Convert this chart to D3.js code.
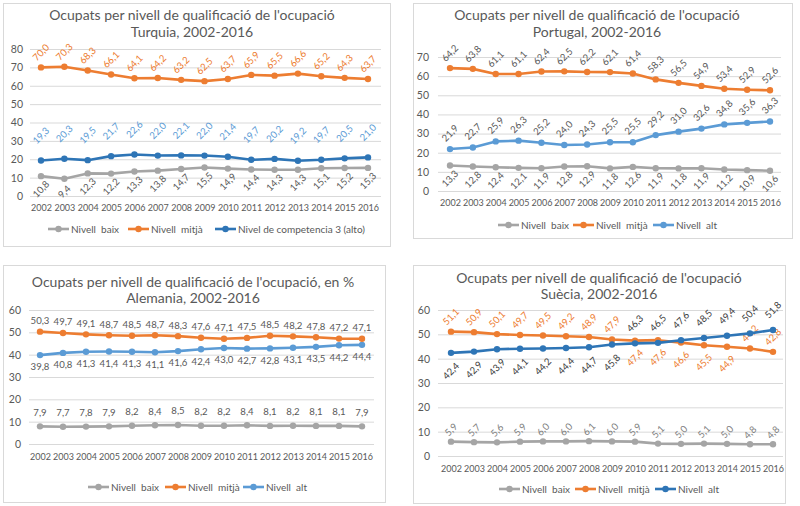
<!DOCTYPE html>
<html>
<head>
<meta charset="utf-8">
<script src="https://cdn.jsdelivr.net/npm/d3@7"></script>
<style>
  body { margin: 0; background: #fff; }
  text { font-family: Lato, "Liberation Sans", sans-serif; }
</style>
</head>
<body>
<script>
// categories
var years = ["2002","2003","2004","2005","2006","2007","2008","2009","2010","2011","2012","2013","2014","2015","2016"];

// Turquia
var turquiaBaix  = [10.8, 9.4, 12.3, 12.2, 13.3, 13.8, 14.7, 15.5, 14.9, 14.4, 14.3, 14.3, 15.1, 15.2, 15.3];
var turquiaMitja = [70.0, 70.3, 68.3, 66.1, 64.1, 64.2, 63.2, 62.5, 63.7, 65.9, 65.5, 66.6, 65.2, 64.3, 63.7];
var turquiaAlt   = [19.3, 20.3, 19.5, 21.7, 22.6, 22.0, 22.1, 22.0, 21.4, 19.7, 20.2, 19.2, 19.7, 20.5, 21.0];

// Portugal
var portugalBaix  = [13.3, 12.8, 12.4, 12.1, 11.9, 12.8, 12.9, 11.8, 12.6, 11.9, 11.8, 11.9, 11.2, 10.9, 10.6];
var portugalMitja = [64.2, 63.8, 61.1, 61.1, 62.4, 62.5, 62.2, 62.1, 61.4, 58.3, 56.5, 54.9, 53.4, 52.9, 52.6];
var portugalAlt   = [21.9, 22.7, 25.9, 26.3, 25.2, 24.0, 24.3, 25.5, 25.5, 29.2, 31.0, 32.6, 34.8, 35.6, 36.3];

// Alemania
var alemaniaBaix  = [7.9, 7.7, 7.8, 7.9, 8.2, 8.4, 8.5, 8.2, 8.2, 8.4, 8.1, 8.2, 8.1, 8.1, 7.9];
var alemaniaMitja = [50.3, 49.7, 49.1, 48.7, 48.5, 48.7, 48.3, 47.6, 47.1, 47.5, 48.5, 48.2, 47.8, 47.2, 47.1];
var alemaniaAlt   = [39.8, 40.8, 41.3, 41.4, 41.3, 41.1, 41.6, 42.4, 43.0, 42.7, 42.8, 43.1, 43.5, 44.2, 44.4];

// Suècia
var sueciaBaix  = [5.9, 5.7, 5.6, 5.9, 6.0, 6.0, 6.1, 6.0, 5.9, 5.1, 5.0, 5.1, 5.0, 4.8, 4.8];
var sueciaMitja = [51.1, 50.9, 50.1, 49.7, 49.5, 49.2, 48.9, 47.9, 47.4, 47.6, 46.6, 45.5, 44.9, 44.2, 42.8];
var sueciaAlt   = [42.4, 42.9, 43.9, 44.1, 44.2, 44.4, 44.7, 45.8, 46.3, 46.5, 47.6, 48.5, 49.4, 50.4, 51.8];

// which side each Suècia label sits on (1 = above, -1 = below)
var sueciaMitjaSide = [1,1,1,1,1,1,1,1,-1,-1,-1,-1,-1,1,1];
var sueciaAltSide   = [-1,-1,-1,-1,-1,-1,-1,-1,1,1,1,1,1,1,1];

var GRAY = "#a5a5a5", ORANGE = "#ed7d31", LBLUE = "#5b9bd5", DBLUE = "#2e75b6";
var TXT = "#595959";

var fmt = function(v) { return d3.format(".1f")(v).replace(".", ","); };

var svg = d3.select("body").append("svg")
    .attr("width", 800)
    .attr("height", 506);

function drawPanel(p) {
    var g = svg.append("g");

    // frame
    g.append("rect")
        .attr("x", p.frame[0] + 0.5).attr("y", p.frame[1] + 0.5)
        .attr("width", p.frame[2] - p.frame[0]).attr("height", p.frame[3] - p.frame[1])
        .attr("fill", "#fff").attr("stroke", "#d9d9d9");

    // title, two lines
    g.selectAll(".title")
        .data(p.title)
        .enter().append("text")
        .attr("x", p.titleX)
        .attr("y", function(d, i) { return p.titleY[i]; })
        .attr("dy", "0.35em")
        .attr("text-anchor", "middle")
        .attr("fill", TXT)
        .style("font-size", "14px")
        .text(function(d) { return d; });

    var x = d3.scalePoint().domain(years).range([p.xFirst, p.xLast]);
    var y = d3.scaleLinear().domain([0, p.yMax]).range([p.y0, p.yTop]);

    // gridlines + tick labels
    var yAxis = d3.axisLeft(y)
        .tickValues(d3.range(0, p.yMax + 1, 10))
        .tickSize(-(p.gridR - p.gridL))
        .tickPadding(p.gridL - p.tickR);
    var ya = g.append("g")
        .attr("transform", "translate(" + p.gridL + ",0)")
        .call(yAxis);
    ya.select(".domain").remove();
    ya.selectAll("line").attr("stroke", "#d9d9d9");
    ya.selectAll("text").attr("fill", TXT).style("font-size", "10.5px")
        .attr("font-family", null);

    // year labels
    var xAxis = d3.axisBottom(x).tickSize(0).tickPadding(0);
    var xa = g.append("g")
        .attr("transform", "translate(0," + p.xLabelY + ")")
        .call(xAxis);
    xa.select(".domain").remove();
    xa.selectAll("text").attr("fill", TXT).style("font-size", "9px")
        .attr("dy", "0.35em").attr("y", 0).attr("font-family", null);

    var line = d3.line()
        .x(function(d, i) { return x(years[i]); })
        .y(function(d) { return y(d); });

    p.series.forEach(function(s) {
        g.append("path")
            .datum(s.values)
            .attr("d", line)
            .attr("fill", "none")
            .attr("stroke", s.color)
            .attr("stroke-width", 2.6)
            .attr("stroke-linejoin", "round");

        g.selectAll(null)
            .data(s.values)
            .enter().append("circle")
            .attr("cx", function(d, i) { return x(years[i]); })
            .attr("cy", function(d) { return y(d); })
            .attr("r", 3.2)
            .attr("fill", s.color);

        // data labels
        g.selectAll(null)
            .data(s.values)
            .enter().append("text")
            .attr("transform", function(d, i) {
                var side = s.side ? s.side[i] : s.dir;
                var off = side > 0 ? s.offUp : s.offDown;
                var tx = x(years[i]), ty = y(d) - side * off;
                return "translate(" + tx + "," + ty + ")" + (s.rotate ? " rotate(-45)" : "");
            })
            .attr("dy", "0.35em")
            .attr("text-anchor", "middle")
            .attr("fill", s.labelColor)
            .style("font-size", "9.6px")
            .text(function(d) { return fmt(d); });
    });

    // legend
    var leg = g.selectAll(".leg")
        .data(p.series.slice().sort(function(a, b) { return a.order - b.order; }))
        .enter().append("g")
        .attr("transform", function(d, i) { return "translate(" + p.legendX[i] + "," + p.legendY + ")"; });
    leg.append("line")
        .attr("x1", 0).attr("x2", 21)
        .attr("stroke", function(d) { return d.color; })
        .attr("stroke-width", 2.6);
    leg.append("circle")
        .attr("cx", 10.5).attr("r", 3.2)
        .attr("fill", function(d) { return d.color; });
    leg.append("text")
        .attr("x", 23).attr("dy", "0.35em")
        .attr("fill", TXT)
        .style("font-size", "10px")
        .style("white-space", "pre")
        .text(function(d) { return d.name; });
}

// Turquia
drawPanel({
    frame: [3, 3, 390, 246],
    title: ["Ocupats per nivell de qualificació de l'ocupació", "Turquia, 2002-2016"],
    titleX: 192, titleY: [15, 32],
    yMax: 80, y0: 196, yTop: 49,
    xFirst: 41, xLast: 368, gridL: 30, gridR: 381, tickR: 23,
    xLabelY: 208, legendY: 229, legendX: [48, 128, 215],
    series: [
        { name: "Nivell  baix", values: turquiaBaix, color: GRAY, labelColor: TXT, dir: -1, offUp: 14, offDown: 13, rotate: true, order: 0 },
        { name: "Nivel de competencia 3 (alto)", values: turquiaAlt, color: DBLUE, labelColor: LBLUE, dir: 1, offUp: 25, offDown: 13, rotate: true, order: 2 },
        { name: "Nivell  mitjà", values: turquiaMitja, color: ORANGE, labelColor: ORANGE, dir: 1, offUp: 15, offDown: 13, rotate: true, order: 1 }
    ]
});

// Portugal
drawPanel({
    frame: [413, 3, 792, 238],
    title: ["Ocupats per nivell de qualificació de l'ocupació", "Portugal, 2002-2016"],
    titleX: 597, titleY: [15, 32],
    yMax: 70, y0: 191, yTop: 57,
    xFirst: 450, xLast: 770, gridL: 438, gridR: 781, tickR: 429,
    xLabelY: 203, legendY: 225, legendX: [498, 573, 653],
    series: [
        { name: "Nivell  baix", values: portugalBaix, color: GRAY, labelColor: TXT, dir: -1, offUp: 14, offDown: 13, rotate: true, order: 0 },
        { name: "Nivell  alt", values: portugalAlt, color: LBLUE, labelColor: TXT, dir: 1, offUp: 16, offDown: 13, rotate: true, order: 2 },
        { name: "Nivell  mitjà", values: portugalMitja, color: ORANGE, labelColor: TXT, dir: 1, offUp: 15, offDown: 13, rotate: true, order: 1 }
    ]
});

// Alemania
drawPanel({
    frame: [3, 265, 385, 502],
    title: ["Ocupats per nivell de qualificació de l'ocupació, en %", "Alemania, 2002-2016"],
    titleX: 193, titleY: [282, 298],
    yMax: 60, y0: 444, yTop: 310,
    xFirst: 40, xLast: 362, gridL: 29, gridR: 374, tickR: 21,
    xLabelY: 457, legendY: 487, legendX: [88, 165, 243],
    series: [
        { name: "Nivell  baix", values: alemaniaBaix, color: GRAY, labelColor: TXT, dir: 1, offUp: 14, offDown: 12, rotate: false, order: 0 },
        { name: "Nivell  alt", values: alemaniaAlt, color: LBLUE, labelColor: TXT, dir: -1, offUp: 12, offDown: 12, rotate: false, order: 2 },
        { name: "Nivell  mitjà", values: alemaniaMitja, color: ORANGE, labelColor: TXT, dir: 1, offUp: 11, offDown: 12, rotate: false, order: 1 }
    ]
});

// Suècia
drawPanel({
    frame: [413, 265, 785, 503],
    title: ["Ocupats per nivell de qualificació de l'ocupació", "Suècia, 2002-2016"],
    titleX: 599, titleY: [278, 294],
    yMax: 60, y0: 456, yTop: 310,
    xFirst: 451, xLast: 773, gridL: 438, gridR: 783, tickR: 430,
    xLabelY: 469, legendY: 489, legendX: [499, 575, 655],
    series: [
        { name: "Nivell  baix", values: sueciaBaix, color: GRAY, labelColor: "#7f7f7f", dir: 1, offUp: 12, offDown: 12, rotate: true, order: 0 },
        { name: "Nivell  mitjà", values: sueciaMitja, color: ORANGE, labelColor: ORANGE, side: sueciaMitjaSide, offUp: 15, offDown: 17, rotate: true, order: 1 },
        { name: "Nivell  alt", values: sueciaAlt, color: DBLUE, labelColor: "#404040", side: sueciaAltSide, offUp: 20, offDown: 18, rotate: true, order: 2 }
    ]
});
</script>
</body>
</html>
